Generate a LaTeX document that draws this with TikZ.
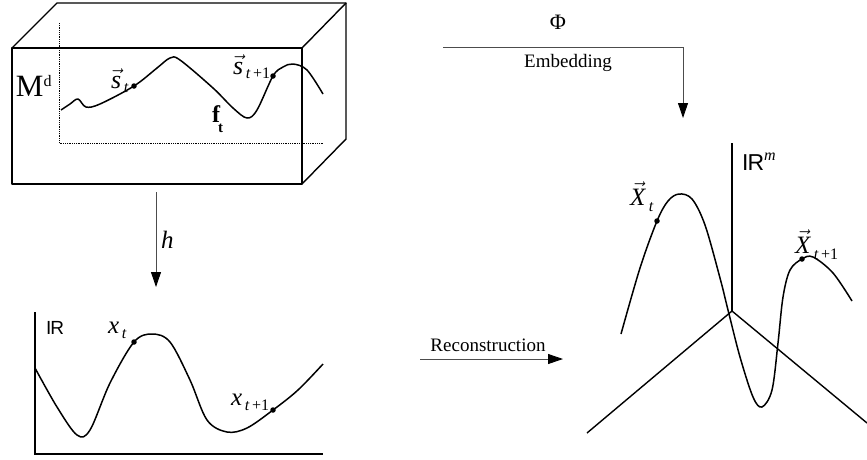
\documentclass[tikz,border=0pt]{standalone}
\usepackage{fontspec}
\usepackage{amsmath}
\setmainfont{Liberation Serif}
\setsansfont{Liberation Sans}
\usetikzlibrary{arrows.meta}
\newcommand{\fsz}[1]{\fontsize{#1}{#1}\selectfont}
\tikzset{
  thickline/.style={line width=1.4pt, line join=round, line cap=round},
  hidden/.style={line width=0.8pt, densely dotted},
  curveline/.style={line width=1.5pt, line join=round},
  arrowline/.style={line width=0.9pt, draw=black!70, -{Triangle[length=15pt,width=10pt,color=black]}},
  lbl/.style={inner sep=0pt, outer sep=0pt, anchor=base west},
  ctr/.style={inner sep=0pt, outer sep=0pt},
  dotmark/.style={circle, fill=black, inner sep=0pt, minimum size=5.5pt}
}
\begin{document}
\begin{tikzpicture}[x=1pt,y=-1pt]
\useasboundingbox (0,0) rectangle (867,459);

% ---------- 3D box ----------
\coordinate (fTL) at (12,48);
\coordinate (fTR) at (302,48);
\coordinate (fBR) at (302,184);
\coordinate (fBL) at (12,184);
\coordinate (bTL) at (57,3);
\coordinate (bTR) at (346,3);
\coordinate (bBR) at (346,139);
\draw[thickline] (fTL) -- (fTR) -- (fBR) -- (fBL) -- cycle;
\draw[thickline] (fTL) -- (bTL) -- (bTR) -- (bBR) -- (fBR);
\draw[thickline] (fTR) -- (bTR);
\coordinate (ax1) at (59,23);
\coordinate (ax0) at (59,143);
\coordinate (ax2) at (324,143);
\draw[hidden] (ax1) -- (ax0) -- (ax2);

\draw[curveline] plot[smooth, tension=0.55] coordinates {
 (61,110) (70,104) (78,99) (86,107) (100,104) (134,86) (157,68) (170,58)
 (180,60) (213,88) (233,108) (247,118) (257,110) (273,76) (283,67) (293,64)
 (307,70) (323,94)};
\node[dotmark] (sdot1) at (134,86) {};
\node[dotmark] (sdot2) at (273,76) {};

\node[lbl] (Md) at (16,96) {\fsz{31}M\raisebox{10pt}{\fsz{16}d}};
\node[lbl] (st) at (111,88) {\fsz{26}$\vec{\text{\textit{s}}}$\raisebox{-4pt}{\fsz{16}\,\textit{t}}};
\node[lbl] (st1) at (233,74) {\fsz{26}$\vec{\text{\textit{s}}}$\raisebox{-4pt}{\fsz{16}\,\textit{t}\,+1}};
\node[lbl] (ft) at (212,122) {\fsz{24}\textbf{f}\kern-2pt\raisebox{-10pt}{\fsz{15}\textbf{t}}};

% ---------- h arrow ----------
\coordinate (h0) at (156,192);
\coordinate (h1) at (156,287);
\draw[arrowline] (h0) -- (h1);
\node[lbl] (hlab) at (161,248) {\fsz{25}\textit{h}};

% ---------- bottom-left plot ----------
\coordinate (r0) at (35,312);
\coordinate (rO) at (35,454);
\coordinate (r1) at (323,454);
\draw[line width=1.3pt] (r0) -- (rO) -- (r1);
\draw[curveline] plot[smooth, tension=0.55] coordinates {
 (35,368) (57,407) (77,435) (90,430) (110,383) (134,342) (152,334) (170,342)
 (190,380) (207,420) (227,432) (247,428) (273,410) (298,390) (323,364)};
\node[dotmark] (xdot1) at (134,342) {};
\node[dotmark] (xdot2) at (273,410) {};
\node[lbl] (R1) at (46,334) {\fsz{19}\sffamily I\kern-0.8pt R};
\node[lbl] (xt) at (108,333) {\fsz{25}\textit{x}\raisebox{-5pt}{\fsz{16}\,\textit{t}}};
\node[lbl] (xt1) at (231,405) {\fsz{25}\textit{x}\raisebox{-5pt}{\fsz{16}\,\textit{t}\,+1}};

% ---------- Embedding arrow ----------
\coordinate (e0) at (443,47);
\coordinate (e1) at (683,118);
\draw[arrowline] (e0) -| (e1);
\node[ctr] (phi) at (558,22) {\fsz{22}Φ};
\node[ctr] (emb) at (568,63) {\fsz{19}Embedding};

% ---------- Reconstruction arrow ----------
\coordinate (c0) at (420,359);
\coordinate (c1) at (563,359);
\draw[arrowline] (c0) -- (c1);
\node[ctr] (rec) at (488,345) {\fsz{19}Reconstruction};

% ---------- right 3D axes ----------
\coordinate (O) at (732,311);
\coordinate (Oz) at (732,143);
\coordinate (Ol) at (587,433);
\coordinate (Or) at (867,423);
\draw[line width=1.4pt] (Oz) -- (O);
\draw[line width=1.4pt] (Ol) -- (O) -- (Or);
\draw[curveline] plot[smooth, tension=0.55] coordinates {
 (621,334) (640,268) (657,221) (668,201) (679,194) (692,199) (705,225)
 (720,278) (728,310) (740,357) (753,397) (762,407) (772,390) (778,343)
 (783,297) (790,270) (802,259) (813,257) (833,273) (852,301)};
\node[dotmark] (Xdot1) at (657,221) {};
\node[dotmark] (Xdot2) at (802,259) {};
\node[lbl] (Rm) at (742,170) {\fsz{23}\sffamily I\kern-0.9pt R\raisebox{10pt}{\fsz{16}\rmfamily\textit{m}}};
\node[lbl] (Xt) at (630,205) {\fsz{25}$\vec{\text{\textit{X}}}$\raisebox{-6pt}{\fsz{16}\,\textit{t}}};
\node[lbl] (Xt1) at (795,253) {\fsz{25}$\vec{\text{\textit{X}}}$\raisebox{-6pt}{\fsz{16}\,\textit{t}\,+1}};
\end{tikzpicture}
\end{document}
